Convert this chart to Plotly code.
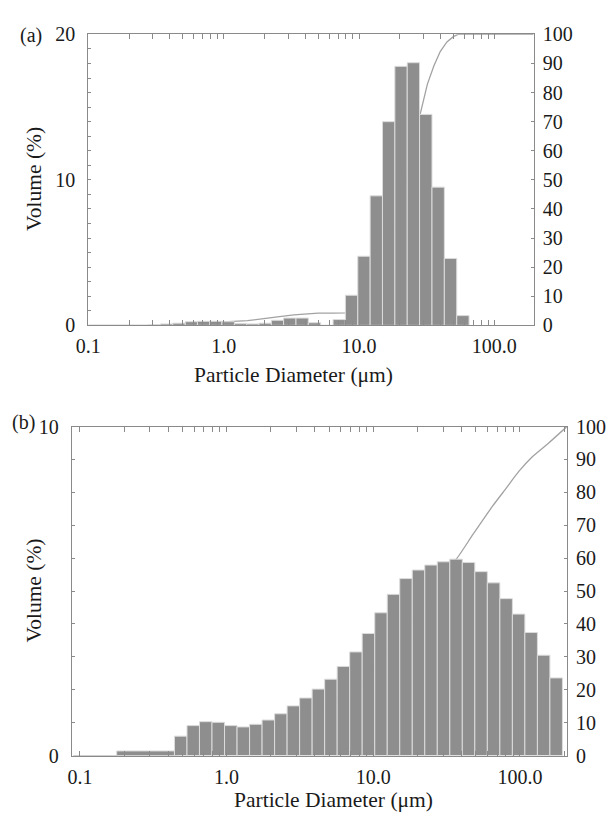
import plotly.graph_objects as go

# ---------------- data ----------------
# Panel (a): bin edges (um) and volume (%) per bin
edges_a = [0.275, 0.34, 0.42, 0.52, 0.64, 0.79, 0.97, 1.20, 1.48, 1.82, 2.25,
           2.77, 3.42, 4.22, 5.21, 6.43, 7.93, 9.79, 12.08, 14.9, 18.4, 22.7,
           28.0, 34.6, 42.7, 52.7, 65.0]
vol_a = [0.05, 0.10, 0.15, 0.25, 0.28, 0.28, 0.25, 0.12, 0.10, 0.15, 0.35,
         0.50, 0.50, 0.18, 0.0, 0.40, 2.07, 4.75, 8.90, 14.0, 17.8, 18.05,
         14.5, 9.5, 4.6, 0.67]
# Panel (a): cumulative volume (%) curve
cum_a_x = [0.1, 0.3, 0.5, 0.7, 1.0, 1.5, 2.0, 2.5, 3.3, 4.2, 5.0, 6.4, 7.9,
           9.8, 12.1, 14.9, 18.4, 22.7, 26.0, 28.3, 32.0, 35.7, 39.8, 44.6,
           50.0, 54.0, 100.0, 195.0]
cum_a_y = [0, 0, 0.4, 0.9, 1.2, 1.6, 2.2, 2.9, 3.6, 4.0, 4.2, 4.2, 4.3,
           6.3, 11.0, 19.9, 33.9, 51.7, 63.0, 72.6, 82.9, 89.1, 94.1, 97.4,
           99.3, 100, 100, 100]

# Panel (b): bin edges (um) and volume (%) per bin
edges_b = [0.178, 0.441, 0.537, 0.653, 0.795, 0.968, 1.178, 1.434, 1.745,
           2.124, 2.585, 3.146, 3.829, 4.660, 5.671, 6.903, 8.401, 10.23,
           12.45, 15.15, 18.44, 22.44, 27.31, 33.24, 40.45, 49.23, 59.92,
           72.93, 88.77, 108.0, 131.5, 160.0, 194.8]
vol_b = [0.14, 0.59, 0.91, 1.03, 1.01, 0.91, 0.87, 0.95, 1.08, 1.27, 1.51,
         1.75, 2.02, 2.32, 2.71, 3.15, 3.71, 4.34, 4.90, 5.38, 5.64, 5.79,
         5.89, 5.97, 5.87, 5.59, 5.25, 4.77, 4.30, 3.74, 3.05, 2.36]
# Panel (b): cumulative volume (%) curve
cum_b_x = [0.09, 0.178, 0.441, 0.537, 0.653, 0.795, 0.968, 1.178, 1.434,
           1.745, 2.124, 2.585, 3.146, 3.829, 4.66, 5.67, 6.90, 8.40, 10.2,
           12.4, 15.1, 18.4, 22.4, 27.3, 33.2, 36.8, 47.8, 65.0, 79.7, 97.9,
           120.0, 155.0, 209.0]
cum_b_y = [0, 0, 0.1, 0.7, 1.6, 2.6, 3.6, 4.5, 5.4, 6.4, 7.5, 8.7, 10.2,
           12.0, 14.0, 16.3, 19.0, 22.2, 25.9, 30.3, 35.2, 40.5, 46.2, 52.0,
           57.9, 59.7, 67.2, 75.8, 81.0, 86.3, 90.6, 94.8, 100]

x_tickvals = [0.1, 1, 10, 100]
x_ticktext = ["0.1", "1.0", "10.0", "100.0"]
left_a_ticks = [0, 10, 20]
left_b_ticks = [0, 10]
right_ticks = [0, 10, 20, 30, 40, 50, 60, 70, 80, 90, 100]

# ---------------- figure ----------------
W, H = 608, 823
FONT = "Liberation Serif, Times New Roman, Times, DejaVu Serif, serif"
AX = "#8a8a8a"
TXT = "#1a1a1a"
BAR = "#8e8e8e"
BAR_EDGE = "#dcdcdc"
LINE = "#a2a2a2"


def centers(e):
    return [(lo + hi) / 2 for lo, hi in zip(e[:-1], e[1:])]


def widths(e):
    return [hi - lo for lo, hi in zip(e[:-1], e[1:])]


minor_x = [m * 10 ** k for k in (-1, 0, 1, 2) for m in range(2, 10)]

fig = go.Figure()
# cumulative curves on the (right) primary axes, bars on overlaying left axes (drawn on top)
fig.add_trace(go.Scatter(x=cum_a_x, y=cum_a_y, xaxis="x", yaxis="y", mode="lines",
                         line=dict(color=LINE, width=1.3), hoverinfo="skip"))
fig.add_trace(go.Bar(x=centers(edges_a), y=vol_a, width=widths(edges_a),
                     xaxis="x", yaxis="y2", hoverinfo="skip",
                     marker=dict(color=BAR, line=dict(color=BAR_EDGE, width=1))))
fig.add_trace(go.Scatter(x=cum_b_x, y=cum_b_y, xaxis="x2", yaxis="y3", mode="lines",
                         line=dict(color=LINE, width=1.3, shape="spline", smoothing=0.6),
                         hoverinfo="skip"))
fig.add_trace(go.Bar(x=centers(edges_b), y=vol_b, width=widths(edges_b),
                     xaxis="x2", yaxis="y4", hoverinfo="skip",
                     marker=dict(color=BAR, line=dict(color=BAR_EDGE, width=1))))


def px_dom(a, b, total):
    return [a / total, b / total]


def py_dom(top, bottom):
    return [1 - bottom / H, 1 - top / H]


tickfont = dict(family=FONT, size=20, color=TXT)


def xaxis_cfg(dom, rng, anchor):
    return dict(domain=dom, anchor=anchor, type="log", range=rng,
                showline=True, linecolor=AX, linewidth=1, mirror="allticks",
                ticks="inside", ticklen=5, tickcolor=AX, tickwidth=1,
                tickvals=x_tickvals, ticktext=x_ticktext, tickfont=tickfont,
                ticklabelstandoff=3,
                minor=dict(tickvals=minor_x, ticks="inside", ticklen=3,
                           tickcolor=AX, tickwidth=1, showgrid=False),
                showgrid=False, zeroline=False)


def right_cfg(dom, anchor):
    return dict(domain=dom, anchor=anchor, side="right", range=[0, 100],
                tickvals=right_ticks, showline=True, linecolor=AX, linewidth=1,
                ticks="inside", ticklen=3, tickcolor=AX, tickfont=tickfont,
                ticklabelstandoff=4,
                showgrid=False, zeroline=False)


def left_cfg(over, anchor, rng, tv):
    return dict(overlaying=over, anchor=anchor, side="left", range=rng,
                tickvals=tv, showline=True, linecolor=AX, linewidth=1,
                ticks="inside", ticklen=3, tickcolor=AX, tickfont=tickfont,
                ticklabelstandoff=8,
                minor=dict(dtick=1, ticks="inside", ticklen=3, tickcolor=AX,
                           showgrid=False),
                showgrid=False, zeroline=False)


fig.update_layout(
    width=W, height=H,
    margin=dict(l=0, r=0, t=0, b=0),
    paper_bgcolor="white", plot_bgcolor="white",
    showlegend=False, barmode="overlay", hovermode=False,
    font=dict(family=FONT, size=20, color=TXT),
    xaxis=xaxis_cfg(px_dom(77, 532, W), [-1, 2.29], "y"),
    yaxis=right_cfg(py_dom(24, 323), "x"),
    yaxis2=left_cfg("y", "x", [0, 20], left_a_ticks),
    xaxis2=xaxis_cfg(px_dom(60, 566, W), [-1.056, 2.32], "y3"),
    yaxis3=right_cfg(py_dom(427, 765), "x2"),
    yaxis4=left_cfg("y3", "x2", [0, 10], left_b_ticks),
)

title_font = dict(family=FONT, size=21.5, color=TXT)


def ann(text, x, y, angle=0, size=None, xanchor="center"):
    f = dict(title_font)
    if size:
        f["size"] = size
    return dict(text=text, x=x / W, y=1 - y / H, xref="paper", yref="paper",
                showarrow=False, textangle=angle, font=f, xanchor=xanchor,
                yanchor="middle")


fig.update_layout(annotations=[
    ann("(a)", 18, 25, size=20),
    ann("(b)", 11, 423, size=20),
    ann("Volume (%)", 22, 173, angle=-90),
    ann("Volume (%)", 22, 596, angle=-90),
    ann("Particle Diameter (\u03bcm)", 287, 374),
    ann("Particle Diameter (\u03bcm)", 328, 811),
])

fig.write_html("out.html",
               config={"displayModeBar": False, "staticPlot": True},
               post_script="document.body.style.margin='0px';"
                           "document.documentElement.style.overflow='hidden';")
